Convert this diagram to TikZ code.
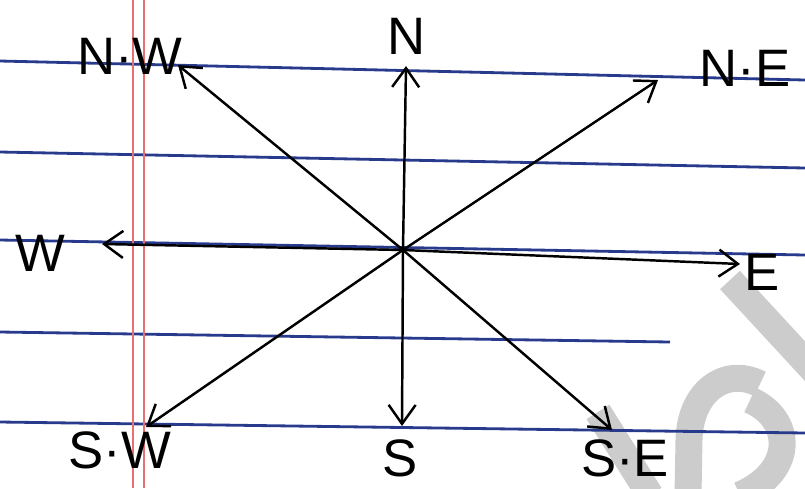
\documentclass[tikz,border=0pt]{standalone}
\usepackage{fontspec}
\setmainfont{Liberation Sans}
\usepackage{tikz}
\usetikzlibrary{arrows.meta,positioning}
\definecolor{ruleblue}{RGB}{40,58,140}
\definecolor{marginred}{RGB}{232,112,112}
\definecolor{wmgray}{RGB}{204,204,204}

\begin{document}
\begin{tikzpicture}[x=0.02cm, y=-0.02cm, >={Straight Barb[length=3.8mm,width=5.4mm]}]

  % Styles
  \tikzset{
    rule/.style={draw=ruleblue, line width=1.6pt},
    margin/.style={draw=marginred, line width=0.8pt},
    wmark/.style={draw=wmgray, line width=0.54cm},
    dir/.style={->, draw=black, line width=1.4pt},
    lbl/.style={font=\fontsize{30}{32}\selectfont, inner sep=0pt}
  }

  \useasboundingbox (0,0) rectangle (805,488);

  % Watermark in the corner
  \draw[wmark] (730,280) -- (815,372);
  \draw[wmark] (598,412) -- (650,495);
  \draw[wmark] (760,384) .. controls (725,366) and (690,392) .. (689,440) -- (688,495);
  \draw[wmark] (750,400) .. controls (792,418) and (797,470) .. (740,495);

  % Ruled paper
  \draw[rule] (0,61) -- (805,80);
  \draw[rule] (0,152) -- (805,168);
  \draw[rule] (0,240) -- (805,255);
  \draw[rule] (0,332) -- (670,342);
  \draw[rule] (0,422) -- (805,433);
  \draw[margin] (133,0) -- (133,488);
  \draw[margin] (144,0) -- (144,488);

  % Centre and arrow tips
  \coordinate (o) at (403,250);
  \coordinate (tipN) at (406,66);
  \coordinate (tipNE) at (658,80);
  \coordinate (tipE) at (740,264);
  \coordinate (tipSE) at (612,430);
  \coordinate (tipS) at (402,426);
  \coordinate (tipSW) at (146,427);
  \coordinate (tipW) at (102,244);
  \coordinate (tipNW) at (178,65);

  % Directions
  \foreach \d in {N,NE,E,SE,S,SW,W,NW}
    \draw[dir] (o) -- (tip\d);

  % Labels
  \node[lbl] (labN) at (407,36) {N};
  \node[lbl] (labNE) at (745,68) {N·E};
  \node[lbl] (labE) at (762,272) {E};
  \node[lbl] (labSE) at (625,458) {S·E};
  \node[lbl] (labS) at (400,458) {S};
  \node[lbl] (labSW) at (120,450) {S·W};
  \node[lbl] (labW) at (40,253) {W};
  \node[lbl] (labNW) at (130,56) {N·W};

\end{tikzpicture}
\end{document}
